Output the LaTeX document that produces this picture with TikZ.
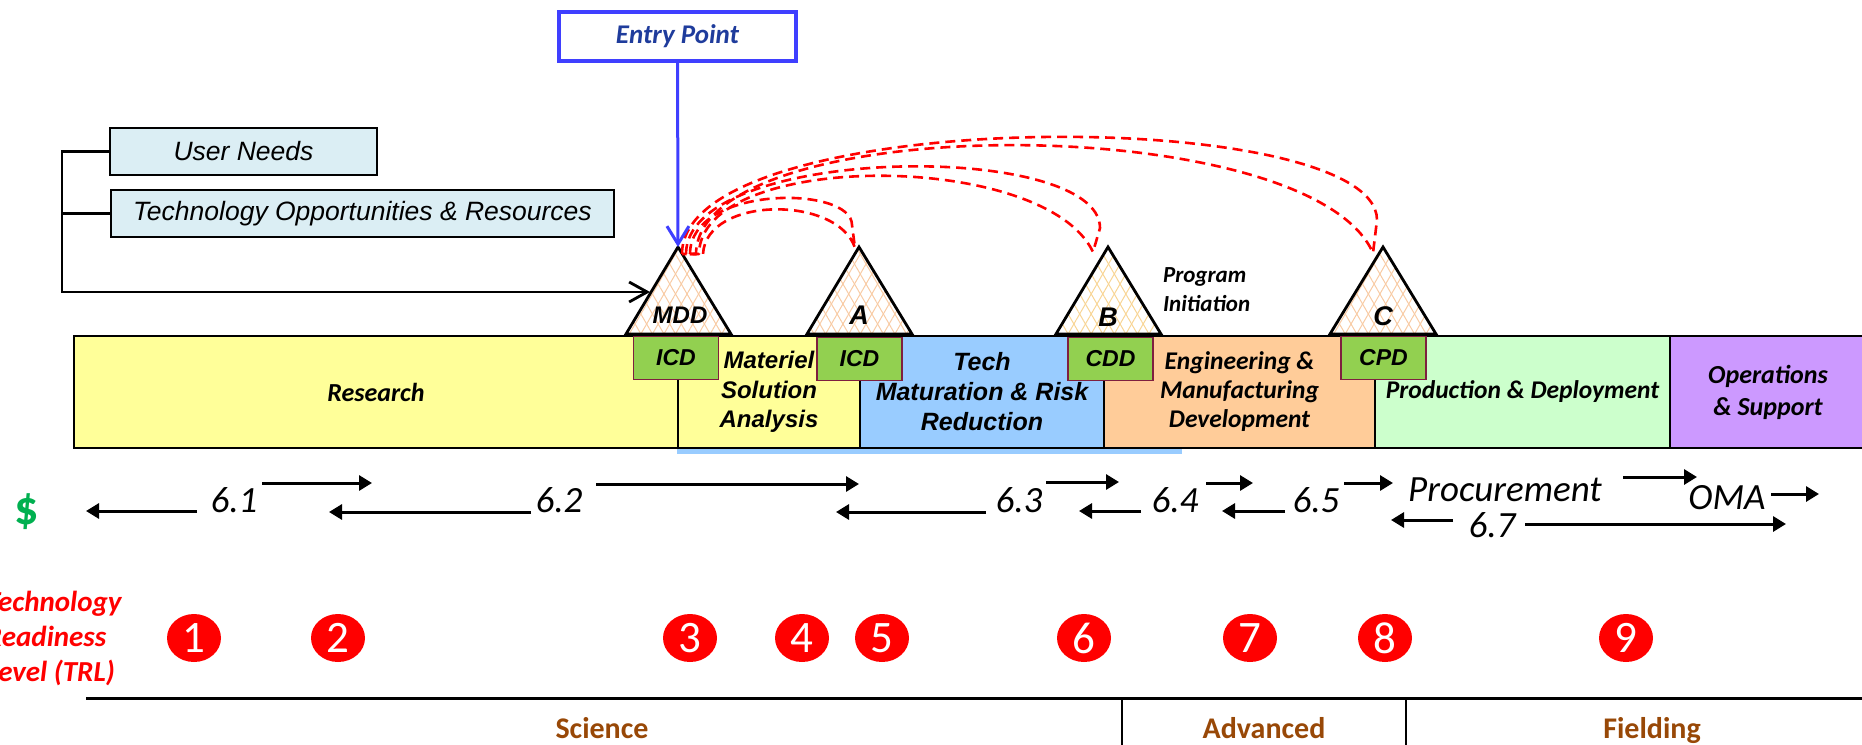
\documentclass[tikz,border=0pt]{standalone}
\usepackage{fontspec}
\setmainfont{Liberation Sans}
\newfontfamily\calib{Carlito}
\usepackage{xcolor}
\usepackage{tikz}
\usetikzlibrary{arrows.meta,positioning,shapes.geometric,patterns.meta}
\definecolor{entryblue}{HTML}{3F3FFF}
\definecolor{entrytext}{HTML}{1F3C9C}
\definecolor{needfill}{HTML}{DBEEF4}
\definecolor{resyel}{HTML}{FFFF99}
\definecolor{techblue}{HTML}{99CCFF}
\definecolor{emdpeach}{HTML}{FFCC99}
\definecolor{prodgreen}{HTML}{CCFFCC}
\definecolor{opspurple}{HTML}{CC99FF}
\definecolor{docgreen}{HTML}{92D050}
\definecolor{docedge}{HTML}{7F1F3F}
\definecolor{hatch}{HTML}{F8CBA4}
\definecolor{hatchb}{HTML}{F8D595}
\definecolor{cashgreen}{HTML}{00B050}
\definecolor{trlred}{HTML}{FF0000}
\definecolor{phasebrown}{HTML}{984807}

\begin{document}
\begin{tikzpicture}[x=1pt, y=-1pt, every node/.style={inner sep=0pt,outer sep=0pt},
  entry/.style={draw=entryblue,line width=4pt,minimum width=237pt,minimum height=49pt,text=entrytext,font=\calib\bfseries\itshape\fontsize{27}{30}\selectfont},
  need/.style={draw=black,line width=2.5pt,fill=needfill,minimum height=47pt,font=\itshape\fontsize{26.5}{30}\selectfont},
  seg/.style={draw=black,line width=2.5pt,minimum height=112pt,align=center},
  armid/.style={font=\bfseries\itshape\fontsize{24}{29.5}\selectfont},
  calmid/.style={font=\calib\bfseries\itshape\fontsize{25.5}{29}\selectfont},
  doc/.style={draw=docedge,line width=1.5pt,fill=docgreen,minimum width=85pt,minimum height=43pt,font=\bfseries\itshape\fontsize{23}{27}\selectfont},
  gate/.style={draw=black,line width=2.8pt,preaction={pattern={Lines[angle=60,distance=10pt,line width=1pt]},pattern color=#1},preaction={pattern={Lines[angle=-60,distance=10pt,line width=1pt]},pattern color=#1}},
  gatelbl/.style={font=\bfseries\itshape\fontsize{27}{30}\selectfont},
  track/.style={draw=red,line width=2.6pt,dash pattern=on 10pt off 6pt,line join=round},
  entryarr/.style={draw=entryblue,line width=3pt,-{Straight Barb[length=18pt,width=22pt]}},
  feed/.style={draw=black,line width=2.8pt},
  cash/.style={draw=black,line width=3pt,-{Triangle[length=13pt,width=15pt]}},
  cashlbl/.style={font=\calib\itshape\fontsize{37}{42}\selectfont},
  trl/.style={ellipse,fill=trlred,minimum width=54pt,minimum height=48pt,text=white,font=\calib\fontsize{45}{48}\selectfont},
  phase/.style={anchor=base,text=phasebrown,font=\calib\bfseries\fontsize{30}{34}\selectfont}]
\useasboundingbox (0,0) rectangle (1862,744);

% entry and inputs
\node[entry] (entry) at (677.5,36.5) {Entry Point};
\node[need,minimum width=267pt,anchor=north west] (needs) at (110,128) {User Needs};
\node[need,minimum width=503pt,below right=15pt and 1pt of needs.south west] (opps) {Technology Opportunities \& Resources};

% phase bar
\fill[techblue] (677,339) rectangle (1182,454);
\node[seg,fill=resyel,minimum width=604pt,anchor=north west,font=\calib\bfseries\itshape\fontsize{26}{30}\selectfont] (research) at (74,336) {Research};
\node[seg,fill=resyel,minimum width=182pt,right=0pt of research,armid] (msa) {Materiel\\Solution\\Analysis};
\node[seg,fill=techblue,minimum width=244pt,right=0pt of msa,font=\bfseries\itshape\fontsize{25}{30}\selectfont] (tmrr) {Tech\\Maturation \& Risk\\Reduction};
\node[seg,fill=emdpeach,minimum width=271pt,right=0pt of tmrr,calmid] (emd) {Engineering \&\\Manufacturing\\Development};
\node[seg,fill=prodgreen,minimum width=295pt,right=0pt of emd,calmid] (pd) {Production \& Deployment};
\node[seg,fill=opspurple,minimum width=196pt,right=0pt of pd,font=\calib\bfseries\itshape\fontsize{26}{32}\selectfont] (os) {Operations\\\& Support};

% documents
\node[doc] (icdA) at (676,358) {ICD};
\node[doc] (icdB) at (859.5,359) {ICD};
\node[doc] (cdd) at (1110.5,359) {CDD};
\node[doc] (cpd) at (1383.5,358) {CPD};

% milestones
\draw[gate=hatch] (626,334) -- (678,247) -- (731,334) -- cycle;
\draw[gate=hatch] (807,334) -- (859,247) -- (912,334) -- cycle;
\draw[gate=hatchb] (1056,334) -- (1108,247) -- (1161,334) -- cycle;
\draw[gate=hatch] (1330,334) -- (1383,247) -- (1436,334) -- cycle;
\node[gatelbl,font=\bfseries\itshape\fontsize{24}{28}\selectfont] (mdd) at (680,315) {MDD};
\node[gatelbl] (msA) at (859,315) {A};
\node[gatelbl] (msB) at (1108,317) {B};
\node[gatelbl] (msC) at (1383,316) {C};
\coordinate (mddtop) at (678,247);
\coordinate (mddin) at (650,292);
\node[font=\calib\bfseries\itshape\fontsize{23}{29}\selectfont,align=left,anchor=west] (init) at (1163,290) {Program\\Initiation};

% tracks from MDD
\draw[track] (690,254) .. controls (690,185) and (852,185) .. (852,225) -- (855,248) .. controls (838,195) and (706,196) .. (703,254) -- cycle;
\draw[track] (686,254) .. controls (686,144) and (1100,140) .. (1100,228) -- (1093,252) .. controls (1045,150) and (700,150) .. (699,254) -- cycle;
\draw[track] (682,254) .. controls (682,104) and (1377,104) .. (1377,220) -- (1373,253) .. controls (1310,109) and (698,109) .. (696,254) -- cycle;

\draw[feed,-{Straight Barb[length=18pt,width=20pt]}] (needs.west) -- ++(-48,0) |- (mddin);
\draw[feed] (opps.west) -- ++(-49,0);
\draw[entryarr] (entry) -- (mddtop);

% funding
\node[text=cashgreen,font=\calib\bfseries\fontsize{48}{52}\selectfont] (dollar) at (27,512) {\$};
\node[cashlbl] (c61) at (234,500) {6.1};
\node[cashlbl] (c62) at (559,500) {6.2};
\node[cashlbl] (c63) at (1019,500) {6.3};
\node[cashlbl] (c64) at (1175,500) {6.4};
\node[cashlbl] (c65) at (1316,500) {6.5};
\node[cashlbl] (proc) at (1505,490) {Procurement};
\node[cashlbl] (oma) at (1727,498) {OMA};
\node[cashlbl] (c67) at (1492,525) {6.7};
\foreach \a/\b/\y in {197/86/511,262/372/483,531/329/512,596/859/484,986/836/512,1046/1119/482,1141/1079/511,1206/1253/483,1285/1222/511,1344/1393/483,1623/1697/477,1771/1819/494,1453/1391/520,1525/1786/524}
  \draw[cash] (\a,\y) -- (\b,\y);

% readiness levels
\node[font=\calib\bfseries\itshape\fontsize{29}{35}\selectfont,text=trlred,align=left,anchor=west] (trl) at (-14,638) {Technology\\Readiness\\Level (TRL)};
\foreach \n/\x in {1/194,2/338,3/690,4/802,5/882,6/1084,7/1250,8/1385,9/1626}
  \node[trl] (trl\n) at (\x,638) {\n};

% phases
\draw[line width=3pt] (86,698) -- (1870,698);
\draw[line width=2pt] (1122,698) -- (1122,750) (1406,698) -- (1406,750);
\node[phase] (sci) at (602,738) {Science};
\node[phase] (adv) at (1264,738) {Advanced};
\node[phase] (fld) at (1652,738) {Fielding};
\end{tikzpicture}
\end{document}
